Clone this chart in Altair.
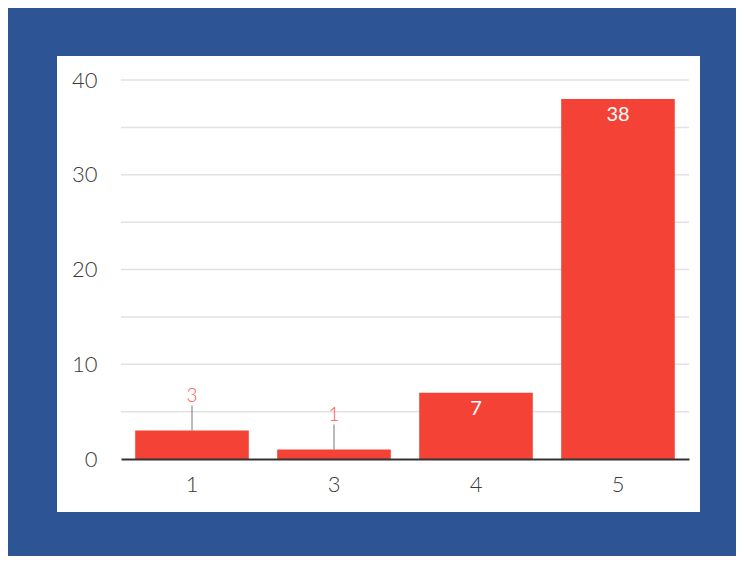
import altair as alt
import pandas as pd

categories = ["1", "3", "4", "5"]
values = [3, 1, 7, 38]
y_ticks = [0, 10, 20, 30, 40]
grid_values = [5, 10, 15, 20, 25, 30, 35, 40]

FONT = "Lato"
W, H = 568, 379

df = pd.DataFrame({"cat": categories, "value": values})
df["inside"] = df["value"] >= 5
grid_df = pd.DataFrame({"g": grid_values})
panel_df = pd.DataFrame({"p": [0]})

yscale = alt.Scale(domain=[0, 40], nice=False)
xscale = alt.Scale(paddingInner=0.2, paddingOuter=0.1)

panel = alt.Chart(panel_df).mark_rect(color="white").encode(
    x=alt.value(-64), x2=alt.value(579), y=alt.value(-24), y2=alt.value(432)
)

grid = alt.Chart(grid_df).mark_rule(color="#e2e2e2", strokeWidth=1.5).encode(
    x=alt.value(0), x2=alt.value(W), y=alt.Y("g:Q", scale=yscale)
)

base = alt.Chart(df).encode(
    x=alt.X("cat:N", sort=categories, scale=xscale,
            axis=alt.Axis(title=None, labelAngle=0, ticks=False, domain=True,
                          domainColor="#333333", domainWidth=2, zindex=1,
                          labelFont=FONT, labelFontSize=22, labelColor="#3a3a3a",
                          labelFontWeight=300, labelPadding=15, grid=False)),
)

bars = base.mark_bar(color="#f44336").encode(
    y=alt.Y("value:Q", scale=yscale,
            axis=alt.Axis(title=None, values=y_ticks, grid=False, domain=False,
                          ticks=False, labelFont=FONT, labelFontSize=22, zindex=1,
                          labelFontWeight=300, labelColor="#3a3a3a",
                          labelPadding=24))
)

outside = base.transform_filter("!datum.inside")

leaders = outside.mark_rule(color="#777777", strokeWidth=1, y2Offset=-25).encode(
    y=alt.Y("value:Q", scale=yscale), y2="value:Q"
)

out_text = outside.mark_text(color="#ff5a4f", font=FONT, fontSize=19,
                             fontWeight=300, baseline="alphabetic", dy=-29).encode(
    y=alt.Y("value:Q", scale=yscale), text="value:Q"
)

in_text = base.transform_filter("datum.inside").mark_text(
    color="white", font=FONT, fontSize=20, fontWeight=400,
    baseline="top", dy=6).encode(
    y=alt.Y("value:Q", scale=yscale), text="value:Q"
)

chart = alt.layer(panel, grid, bars, leaders, out_text, in_text).properties(
    width=W, height=H,
    autosize=alt.AutoSizeParams(type="none"),
    padding={"left": 113, "right": 47, "top": 72, "bottom": 97},
    background="#2d5595",
).configure_view(stroke=None)

chart.save("out.html", embed_options={"renderer": "svg", "actions": False})
